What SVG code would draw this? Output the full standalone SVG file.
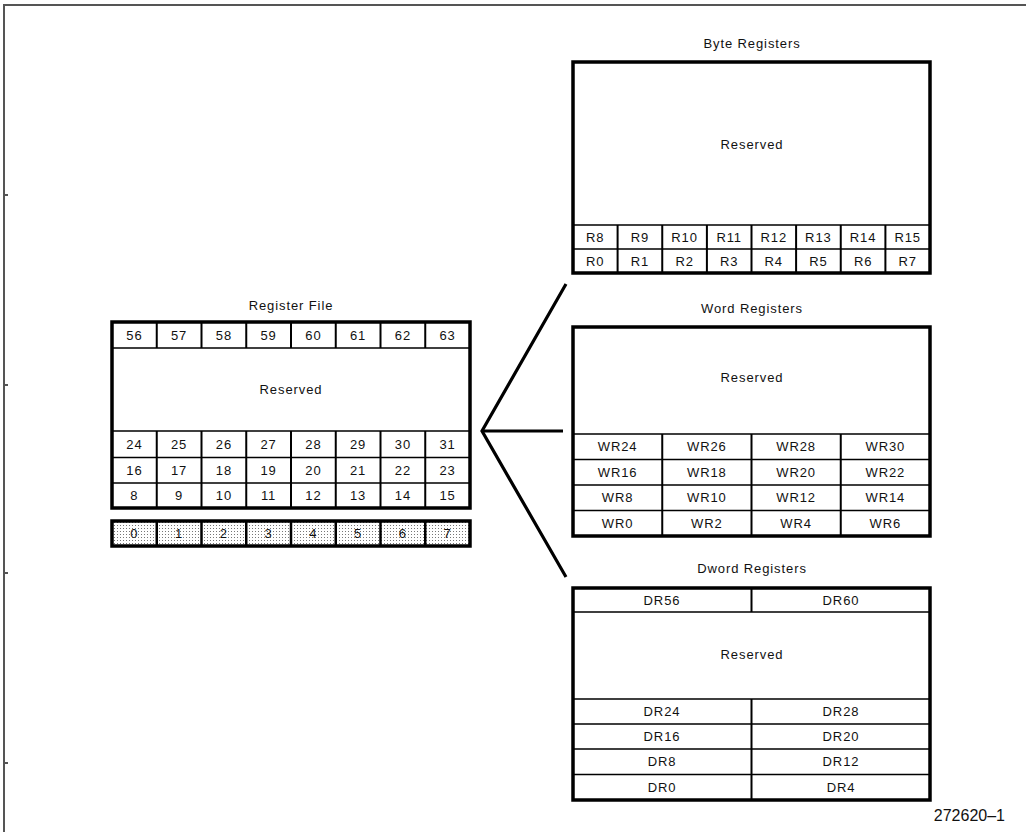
<svg xmlns="http://www.w3.org/2000/svg" width="1026" height="832" viewBox="0 0 1026 832">
<style>
text{font-family:"Liberation Sans","DejaVu Sans",sans-serif;font-size:13px;fill:#111;text-anchor:middle;letter-spacing:0.9px}
.box{fill:#fff;stroke:#000;stroke-width:3.5}
.in{stroke:#000;stroke-width:1.6;fill:none}
.v{stroke:#000;stroke-width:2;fill:none}
.conn{stroke:#000;stroke-width:3.2;fill:none;stroke-linecap:butt}
.frame{stroke:#555;stroke-width:2;fill:none}
.lbl{font-size:16px;letter-spacing:0;text-anchor:end}
</style>
<defs>
<pattern id="dots" width="3" height="3" patternUnits="userSpaceOnUse">
<rect width="3" height="3" fill="#fff"/>
<rect x="0" y="0" width="1" height="1" fill="#777"/>
</pattern>
</defs>
<rect width="1026" height="832" fill="#fff"/>
<g id="frame">
<path class="frame" d="M1026,5 H4 V832"/>
<path class="frame" d="M3,195 H8 M3,385 H8 M3,573 H8 M3,763 H8"/>
</g>
<g id="connectors">
<path class="conn" d="M566,284 L482,431 L566,577"/>
<path class="conn" d="M482,431 H563"/>
</g>
<g id="register-file">
<text x="291" y="310">Register File</text>
<rect class="box" x="112" y="322" width="358" height="186"/>
<path class="in" d="M112,348 H470 M112,431 H470 M112,457.5 H470 M112,483 H470"/>
<path class="v" d="M156.75,322 V348 M201.5,322 V348 M246.25,322 V348 M291,322 V348 M335.75,322 V348 M380.5,322 V348 M425.25,322 V348"/>
<path class="v" d="M156.75,431 V508 M201.5,431 V508 M246.25,431 V508 M291,431 V508 M335.75,431 V508 M380.5,431 V508 M425.25,431 V508"/>
<text x="134.4" y="339.5">56</text><text x="179.1" y="339.5">57</text><text x="223.9" y="339.5">58</text><text x="268.6" y="339.5">59</text><text x="313.4" y="339.5">60</text><text x="358.1" y="339.5">61</text><text x="402.9" y="339.5">62</text><text x="447.6" y="339.5">63</text>
<text x="291" y="394">Reserved</text>
<text x="134.4" y="449">24</text><text x="179.1" y="449">25</text><text x="223.9" y="449">26</text><text x="268.6" y="449">27</text><text x="313.4" y="449">28</text><text x="358.1" y="449">29</text><text x="402.9" y="449">30</text><text x="447.6" y="449">31</text>
<text x="134.4" y="475">16</text><text x="179.1" y="475">17</text><text x="223.9" y="475">18</text><text x="268.6" y="475">19</text><text x="313.4" y="475">20</text><text x="358.1" y="475">21</text><text x="402.9" y="475">22</text><text x="447.6" y="475">23</text>
<text x="134.4" y="500">8</text><text x="179.1" y="500">9</text><text x="223.9" y="500">10</text><text x="268.6" y="500">11</text><text x="313.4" y="500">12</text><text x="358.1" y="500">13</text><text x="402.9" y="500">14</text><text x="447.6" y="500">15</text>
</g>
<g id="low-bytes">
<rect x="112" y="521" width="358" height="25" fill="url(#dots)" stroke="#000" stroke-width="3.5"/>
<path d="M156.75,521 V546 M201.5,521 V546 M246.25,521 V546 M291,521 V546 M335.75,521 V546 M380.5,521 V546 M425.25,521 V546" stroke="#000" stroke-width="2.5"/>
<text x="134.4" y="538">0</text><text x="179.1" y="538">1</text><text x="223.9" y="538">2</text><text x="268.6" y="538">3</text><text x="313.4" y="538">4</text><text x="358.1" y="538">5</text><text x="402.9" y="538">6</text><text x="447.6" y="538">7</text>
</g>
<g id="byte-registers">
<text x="752" y="48">Byte Registers</text>
<rect class="box" x="573" y="62" width="357" height="211"/>
<path class="in" d="M573,225 H930 M573,249 H930"/>
<path class="v" d="M617.6,225 V273 M662.25,225 V273 M706.9,225 V273 M751.5,225 V273 M796.1,225 V273 M840.75,225 V273 M885.4,225 V273"/>
<text x="752" y="149">Reserved</text>
<text x="595.3" y="241.5">R8</text><text x="639.9" y="241.5">R9</text><text x="684.6" y="241.5">R10</text><text x="729.2" y="241.5">R11</text><text x="773.8" y="241.5">R12</text><text x="818.4" y="241.5">R13</text><text x="863.1" y="241.5">R14</text><text x="907.7" y="241.5">R15</text>
<text x="595.3" y="265.5">R0</text><text x="639.9" y="265.5">R1</text><text x="684.6" y="265.5">R2</text><text x="729.2" y="265.5">R3</text><text x="773.8" y="265.5">R4</text><text x="818.4" y="265.5">R5</text><text x="863.1" y="265.5">R6</text><text x="907.7" y="265.5">R7</text>
</g>
<g id="word-registers">
<text x="752" y="313">Word Registers</text>
<rect class="box" x="573" y="327" width="357" height="209"/>
<path class="in" d="M573,434 H930 M573,459.5 H930 M573,485 H930 M573,510.5 H930"/>
<path class="v" d="M662.25,434 V536 M751.5,434 V536 M840.75,434 V536"/>
<text x="752" y="382">Reserved</text>
<text x="617.6" y="451">WR24</text><text x="706.9" y="451">WR26</text><text x="796.1" y="451">WR28</text><text x="885.4" y="451">WR30</text>
<text x="617.6" y="477">WR16</text><text x="706.9" y="477">WR18</text><text x="796.1" y="477">WR20</text><text x="885.4" y="477">WR22</text>
<text x="617.6" y="502">WR8</text><text x="706.9" y="502">WR10</text><text x="796.1" y="502">WR12</text><text x="885.4" y="502">WR14</text>
<text x="617.6" y="528">WR0</text><text x="706.9" y="528">WR2</text><text x="796.1" y="528">WR4</text><text x="885.4" y="528">WR6</text>
</g>
<g id="dword-registers">
<text x="752" y="573">Dword Registers</text>
<rect class="box" x="573" y="588" width="357" height="212"/>
<path class="in" d="M573,612 H930 M573,699 H930 M573,724 H930 M573,749 H930 M573,774.5 H930"/>
<path class="v" d="M751.5,588 V612 M751.5,699 V800"/>
<text x="662" y="604.5">DR56</text><text x="841" y="604.5">DR60</text>
<text x="752" y="659">Reserved</text>
<text x="662" y="716">DR24</text><text x="841" y="716">DR28</text>
<text x="662" y="741">DR16</text><text x="841" y="741">DR20</text>
<text x="662" y="766">DR8</text><text x="841" y="766">DR12</text>
<text x="662" y="792">DR0</text><text x="841" y="792">DR4</text>
</g>
<text class="lbl" x="1005" y="821">272620–1</text>
</svg>
